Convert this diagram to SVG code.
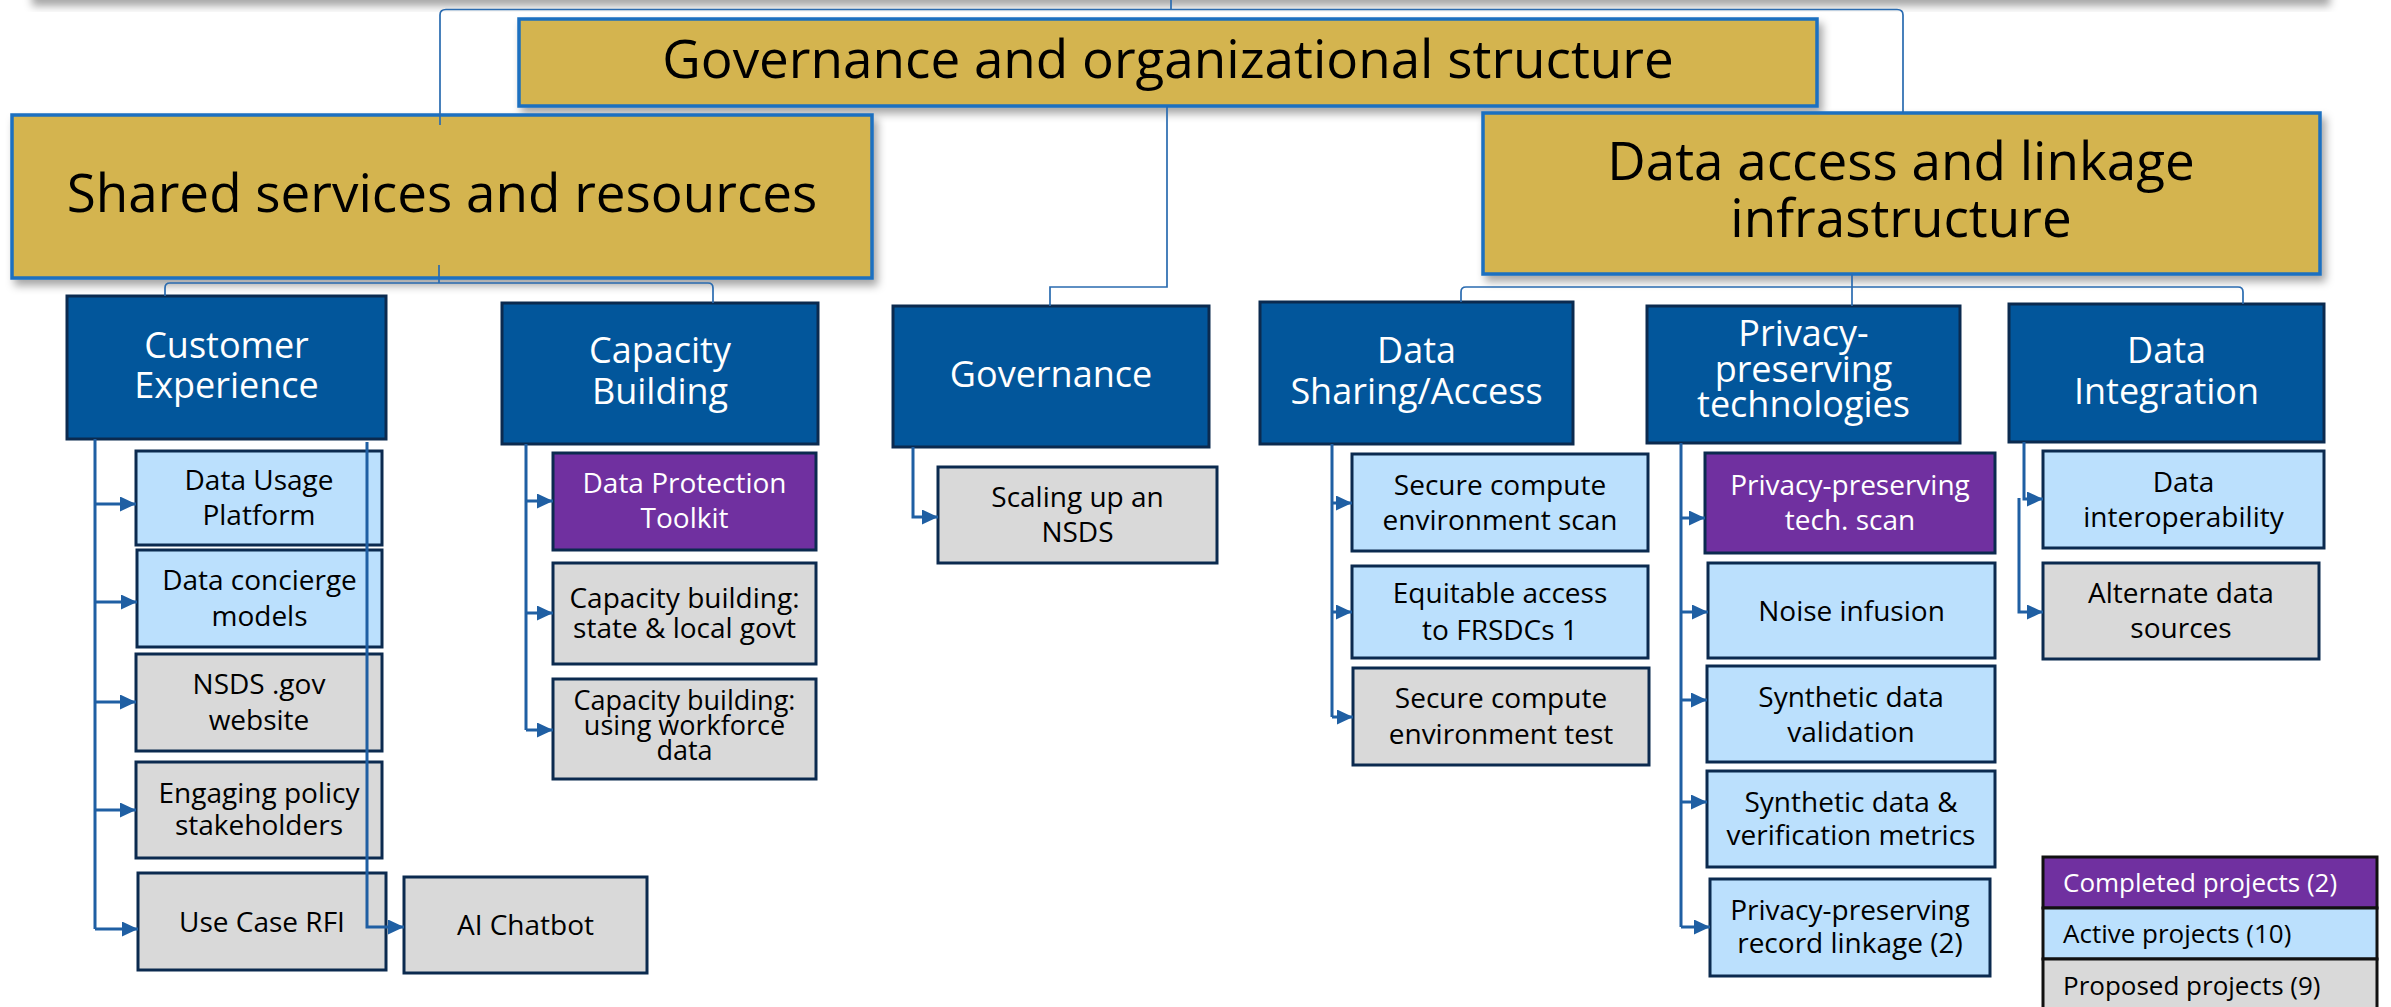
<svg xmlns="http://www.w3.org/2000/svg" width="2391" height="1007" viewBox="0 0 2391 1007">
<style>
text{font-family:"Open Sans","Noto Sans","Liberation Sans",sans-serif;text-anchor:middle}
.top{fill:#D4B44F;stroke:#1A6FC0;stroke-width:3.5}
.cat{fill:#02569B;stroke:#0B2A4F;stroke-width:3}
.act{fill:#BBE0FD;stroke:#0B2A4F;stroke-width:3}
.prop{fill:#D9D9D9;stroke:#0B2A4F;stroke-width:3}
.done{fill:#7030A0;stroke:#0B2A4F;stroke-width:3}
.tt{font-size:53px;fill:#000}
.ct{font-size:36px;fill:#fff}
.nt{font-size:28px;fill:#000}
.wt{font-size:28px;fill:#fff}
.lg{font-size:26px;text-anchor:start}
.thin{fill:none;stroke:#2A6BB0;stroke-width:1.7}
.arr{fill:none;stroke:#1F5FA3;stroke-width:3}
.arrh{fill:none;stroke:#1F5FA3;stroke-width:3;marker-end:url(#ah)}
</style>
<defs>
<filter id="sh" x="-10%" y="-10%" width="130%" height="140%">
<feDropShadow dx="4" dy="6" stdDeviation="4" flood-color="#000" flood-opacity="0.35"/>
</filter>
<marker id="ah" markerUnits="userSpaceOnUse" markerWidth="16" markerHeight="15" refX="16" refY="7.5" orient="auto">
<path d="M0,0 L16,7.5 L0,15 Z" fill="#1F5FA3"/>
</marker>
</defs>
<rect width="2391" height="1007" fill="#fff"/>
<rect x="28" y="-40" width="2298" height="40" fill="#fff" filter="url(#sh)"/>

<g id="gov-top"><rect class="top" x="519" y="19" width="1298" height="87" filter="url(#sh)"/><text class="tt" x="1168" y="78">Governance and organizational structure</text></g>
<g id="shared"><rect class="top" x="12" y="115" width="860" height="163" filter="url(#sh)"/><text class="tt" x="442" y="212">Shared services and resources</text></g>
<g id="data-access"><rect class="top" x="1483" y="113" width="837" height="161" filter="url(#sh)"/><text class="tt" x="1901" y="180">Data access and linkage</text><text class="tt" x="1901" y="237">infrastructure</text></g>

<g id="customer-experience"><rect class="cat" x="67" y="296" width="319" height="143"/><text class="ct" x="226.5" y="358">Customer</text><text class="ct" x="226.5" y="398">Experience</text></g>
<g id="capacity-building"><rect class="cat" x="502" y="303" width="316" height="141"/><text class="ct" x="660" y="363">Capacity</text><text class="ct" x="660" y="404">Building</text></g>
<g id="governance"><rect class="cat" x="893" y="306" width="316" height="141"/><text class="ct" x="1051" y="387">Governance</text></g>
<g id="data-sharing"><rect class="cat" x="1260" y="302" width="313" height="142"/><text class="ct" x="1416.5" y="363">Data</text><text class="ct" x="1416.5" y="404">Sharing/Access</text></g>
<g id="privacy-tech"><rect class="cat" x="1647" y="306" width="313" height="137"/><text class="ct" x="1803.5" y="346">Privacy-</text><text class="ct" x="1803.5" y="382">preserving</text><text class="ct" x="1803.5" y="417">technologies</text></g>
<g id="data-integration"><rect class="cat" x="2009" y="304" width="315" height="138"/><text class="ct" x="2166.5" y="363">Data</text><text class="ct" x="2166.5" y="404">Integration</text></g>

<g id="data-usage-platform"><rect class="act" x="136" y="451" width="246" height="94"/><text class="nt" x="259" y="490">Data Usage</text><text class="nt" x="259" y="525">Platform</text></g>
<g id="data-concierge"><rect class="act" x="137" y="550" width="245" height="97"/><text class="nt" x="259.5" y="590">Data concierge</text><text class="nt" x="259.5" y="626">models</text></g>
<g id="nsds-website"><rect class="prop" x="136" y="654" width="246" height="97"/><text class="nt" x="259" y="694">NSDS .gov</text><text class="nt" x="259" y="730">website</text></g>
<g id="engaging-policy"><rect class="prop" x="136" y="762" width="246" height="96"/><text class="nt" x="259" y="803">Engaging policy</text><text class="nt" x="259" y="835">stakeholders</text></g>
<g id="use-case-rfi"><rect class="prop" x="138" y="873" width="248" height="97"/><text class="nt" x="262" y="932">Use Case RFI</text></g>
<g id="ai-chatbot"><rect class="prop" x="404" y="877" width="243" height="96"/><text class="nt" x="525.5" y="935">AI Chatbot</text></g>

<g id="data-protection-toolkit"><rect class="done" x="553" y="453" width="263" height="97"/><text class="wt" x="684.5" y="493">Data Protection</text><text class="wt" x="684.5" y="528">Toolkit</text></g>
<g id="cb-state-local"><rect class="prop" x="553" y="563" width="263" height="101"/><text class="nt" x="684.5" y="608">Capacity building:</text><text class="nt" x="684.5" y="638">state &amp; local govt</text></g>
<g id="cb-workforce"><rect class="prop" x="553" y="679" width="263" height="100"/><text class="nt" x="684.5" y="710" style="font-size:27px">Capacity building:</text><text class="nt" x="684.5" y="735" style="font-size:27px">using workforce</text><text class="nt" x="684.5" y="760" style="font-size:27px">data</text></g>

<g id="scaling-nsds"><rect class="prop" x="938" y="467" width="279" height="96"/><text class="nt" x="1077.5" y="507">Scaling up an</text><text class="nt" x="1077.5" y="542">NSDS</text></g>

<g id="sce-scan"><rect class="act" x="1352" y="454" width="296" height="97"/><text class="nt" x="1500" y="495">Secure compute</text><text class="nt" x="1500" y="530">environment scan</text></g>
<g id="equitable-access"><rect class="act" x="1352" y="566" width="296" height="92"/><text class="nt" x="1500" y="603">Equitable access</text><text class="nt" x="1500" y="640">to FRSDCs 1</text></g>
<g id="sce-test"><rect class="prop" x="1353" y="668" width="296" height="97"/><text class="nt" x="1501" y="708">Secure compute</text><text class="nt" x="1501" y="744">environment test</text></g>

<g id="ppt-scan"><rect class="done" x="1705" y="453" width="290" height="100"/><text class="wt" x="1850" y="495">Privacy-preserving</text><text class="wt" x="1850" y="530">tech. scan</text></g>
<g id="noise-infusion"><rect class="act" x="1708" y="563" width="287" height="95"/><text class="nt" x="1851.5" y="621">Noise infusion</text></g>
<g id="synthetic-validation"><rect class="act" x="1707" y="666" width="288" height="96"/><text class="nt" x="1851" y="707">Synthetic data</text><text class="nt" x="1851" y="742">validation</text></g>
<g id="synthetic-metrics"><rect class="act" x="1707" y="771" width="288" height="96"/><text class="nt" x="1851" y="812">Synthetic data &amp;</text><text class="nt" x="1851" y="845">verification metrics</text></g>
<g id="pprl"><rect class="act" x="1710" y="879" width="280" height="97"/><text class="nt" x="1850" y="920">Privacy-preserving</text><text class="nt" x="1850" y="953">record linkage (2)</text></g>

<g id="data-interoperability"><rect class="act" x="2043" y="451" width="281" height="97"/><text class="nt" x="2183.5" y="492">Data</text><text class="nt" x="2183.5" y="527">interoperability</text></g>
<g id="alternate-sources"><rect class="prop" x="2043" y="563" width="276" height="96"/><text class="nt" x="2181" y="603">Alternate data</text><text class="nt" x="2181" y="638">sources</text></g>

<g id="legend">
<rect x="2043" y="857" width="334" height="51" fill="#7030A0" stroke="#111" stroke-width="3"/>
<rect x="2043" y="908" width="334" height="51" fill="#BBE0FD" stroke="#111" stroke-width="3"/>
<rect x="2043" y="959" width="334" height="60" fill="#D9D9D9" stroke="#111" stroke-width="3"/>
<text class="lg" x="2063" y="892" fill="#fff">Completed projects (2)</text>
<text class="lg" x="2063" y="943" fill="#000">Active projects (10)</text>
<text class="lg" x="2063" y="995" fill="#000">Proposed projects (9)</text>
</g>

<g id="connectors">
<path class="thin" d="M1171,0 V9.5"/>
<path class="thin" d="M440,125 V15 Q440,9.5 446,9.5 H1897 Q1903,9.5 1903,15 V113"/>
<path class="thin" d="M1167,106 V287 H1050 V306"/>
<path class="thin" d="M439,265 V283"/>
<path class="thin" d="M165,296 V288 Q165,283 170,283 H708 Q713,283 713,288 V303"/>
<path class="thin" d="M1852,274 V287"/>
<path class="thin" d="M1461,302 V292 Q1461,287 1466,287 H2238 Q2243,287 2243,292 V304"/>
<path class="thin" d="M1852,287 V306"/>

<path class="arr" d="M95,439 V929"/>
<path class="arrh" d="M95,504 H136"/>
<path class="arrh" d="M95,602 H137"/>
<path class="arrh" d="M95,702 H136"/>
<path class="arrh" d="M95,810 H136"/>
<path class="arrh" d="M95,929 H138"/>
<path class="arrh" d="M367,442 V927 H404"/>

<path class="arr" d="M526,444 V730"/>
<path class="arrh" d="M526,501 H553"/>
<path class="arrh" d="M526,613 H553"/>
<path class="arrh" d="M526,730 H553"/>

<path class="arrh" d="M913,447 V517 H938"/>

<path class="arr" d="M1332,444 V717"/>
<path class="arrh" d="M1332,503 H1352"/>
<path class="arrh" d="M1332,612 H1352"/>
<path class="arrh" d="M1332,717 H1353"/>

<path class="arr" d="M1681,443 V927"/>
<path class="arrh" d="M1681,518 H1705"/>
<path class="arrh" d="M1681,612 H1708"/>
<path class="arrh" d="M1681,700 H1707"/>
<path class="arrh" d="M1681,802 H1707"/>
<path class="arrh" d="M1681,927 H1710"/>

<path class="arrh" d="M2024,442 V499 H2043"/>
<path class="arrh" d="M2019,498 V612 H2043"/>
</g>
</svg>
